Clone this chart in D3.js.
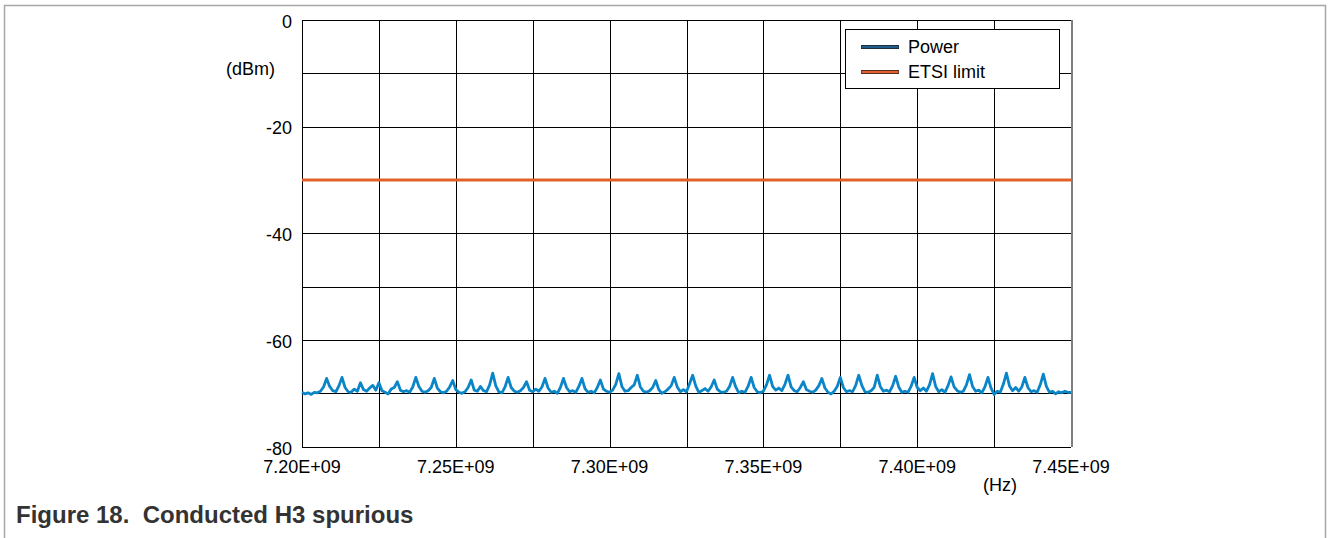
<!DOCTYPE html>
<html>
<head>
<meta charset="utf-8">
<script src="https://cdn.jsdelivr.net/npm/d3@7"></script>
<style>
  html, body { margin: 0; padding: 0; background: #fff; }
  svg { display: block; font-family: "Liberation Sans", Arial, sans-serif; }
</style>
</head>
<body>
<div id="chart"></div>
<script>
// spectrum sweep: 7.20 GHz start, one reading per MHz
const startHz = 7.2e9;
const stepHz = 1e6;
const powerDbm = [
  -69.8, -70.1, -69.9, -70.2, -69.8, -69.9, -69.6, -68.8, -67.2, -68.7,
  -69.5, -69.7, -68.6, -67.0, -68.9, -69.7, -69.8, -69.2, -69.6, -68.0,
  -69.3, -69.6, -69.0, -68.5, -69.4, -68.0, -69.5, -69.8, -70.1, -69.2,
  -68.9, -67.8, -69.4, -69.7, -69.5, -69.8, -68.8, -67.0, -68.7, -69.6,
  -69.8, -69.5, -68.9, -67.2, -69.0, -69.7, -69.9, -69.6, -68.8, -67.6,
  -69.3, -69.8, -70.0, -69.7, -68.9, -67.5, -69.4, -69.6, -68.7, -69.5,
  -69.7, -68.4, -66.2, -68.6, -69.7, -69.9, -68.8, -67.0, -68.9, -69.6,
  -69.8, -69.5, -68.9, -67.8, -69.4, -69.7, -69.2, -69.6, -68.8, -67.2,
  -69.0, -69.8, -69.6, -70.0, -68.9, -67.2, -68.9, -69.7, -69.5, -69.8,
  -68.7, -67.2, -69.1, -69.8, -69.6, -69.9, -68.9, -67.5, -69.2, -69.6,
  -69.8, -69.4, -68.3, -66.3, -68.7, -69.6, -69.5, -68.9, -68.4, -66.6,
  -68.8, -69.6, -69.8, -69.5, -68.9, -67.6, -69.3, -70.0, -69.7, -69.2,
  -68.6, -67.0, -68.8, -69.7, -69.3, -69.7, -68.2, -66.6, -68.6, -69.8,
  -69.5, -69.1, -69.6, -68.8, -67.5, -69.2, -69.7, -69.8, -69.6, -68.7,
  -67.0, -68.8, -69.9, -69.6, -69.8, -68.7, -67.0, -68.9, -69.7, -69.9,
  -69.6, -68.4, -66.6, -68.7, -69.4, -69.0, -69.5, -68.3, -66.6, -68.8,
  -69.5, -69.7, -68.9, -67.8, -69.3, -69.6, -69.8, -69.4, -68.6, -67.2,
  -69.0, -69.8, -70.1, -69.6, -68.7, -67.0, -68.9, -69.7, -69.5, -69.7,
  -68.5, -66.6, -68.5, -69.7, -69.8, -69.5, -68.9, -66.6, -68.7, -69.6,
  -69.4, -69.7, -68.6, -66.8, -68.8, -69.8, -69.6, -69.8, -68.7, -67.0,
  -68.9, -69.5, -69.0, -69.6, -68.4, -66.3, -68.7, -69.7, -69.3, -69.8,
  -68.6, -66.9, -68.8, -69.5, -69.8, -69.6, -68.4, -66.5, -68.7, -69.6,
  -69.4, -69.9, -68.8, -67.0, -69.0, -70.2, -69.6, -69.8, -68.3, -66.2,
  -68.6, -69.5, -68.9, -69.6, -68.8, -67.0, -68.9, -69.7, -69.5, -69.8,
  -68.4, -66.4, -68.7, -69.8, -69.6, -70.1, -69.7, -69.9, -69.6, -69.8,
  -69.8
];
const etsiLimit = -30;

const xTickValues = [7.20e9, 7.25e9, 7.30e9, 7.35e9, 7.40e9, 7.45e9];
const xGridValues = [7.20e9, 7.225e9, 7.25e9, 7.275e9, 7.30e9, 7.325e9, 7.35e9, 7.375e9, 7.40e9, 7.425e9, 7.45e9];
const yTickValues = [0, -20, -40, -60, -80];
const yGridValues = [0, -10, -20, -30, -40, -50, -60, -70, -80];
const seriesNames = ['Power', 'ETSI limit'];
const seriesColors = ['#1f5e8c', '#e4602a'];

const width = 1328;
const height = 538;
const plot = { left: 302, right: 1071, top: 20, bottom: 446.7 };

const svg = d3.select('#chart')
  .append('svg')
  .attr('width', width)
  .attr('height', height);

// outer figure frame (open at the bottom)
svg.append('path')
  .attr('d', `M4.5,${height} V5.5 H1325.5 V${height}`)
  .attr('fill', 'none')
  .attr('stroke', '#a6a6a6')
  .attr('stroke-width', 1.5);

const x = d3.scaleLinear().domain([7.2e9, 7.45e9]).range([plot.left, plot.right]);
const y = d3.scaleLinear().domain([-80, 0]).range([plot.bottom, plot.top]);

const fmtHz = (v) => (v / 1e9).toFixed(2) + 'E+09';

// grid
const grid = svg.append('g').attr('shape-rendering', 'crispEdges');
grid.selectAll('line.v')
  .data(xGridValues)
  .join('line')
  .attr('class', 'v')
  .attr('x1', (d) => Math.round(x(d)) + 0.5)
  .attr('x2', (d) => Math.round(x(d)) + 0.5)
  .attr('y1', plot.top)
  .attr('y2', plot.bottom)
  .attr('stroke', (d, i) => (i === xGridValues.length - 1 ? '#7f7f7f' : '#000'))
  .attr('stroke-width', (d, i) => (i === xGridValues.length - 1 ? 2 : 1));
grid.selectAll('line.h')
  .data(yGridValues)
  .join('line')
  .attr('class', 'h')
  .attr('x1', plot.left)
  .attr('x2', plot.right)
  .attr('y1', (d) => Math.round(y(d)) + 0.5)
  .attr('y2', (d) => Math.round(y(d)) + 0.5)
  .attr('stroke', '#000')
  .attr('stroke-width', 1);

// axis labels
svg.append('g')
  .selectAll('text')
  .data(yTickValues)
  .join('text')
  .attr('x', 292)
  .attr('y', (d) => y(d) + 1.5)
  .attr('dy', '0.35em')
  .attr('text-anchor', 'end')
  .attr('font-size', 18)
  .attr('fill', '#000')
  .text((d) => d);

svg.append('g')
  .selectAll('text')
  .data(xTickValues)
  .join('text')
  .attr('x', (d) => x(d))
  .attr('y', 466.5)
  .attr('dy', '0.35em')
  .attr('text-anchor', 'middle')
  .attr('font-size', 18)
  .attr('fill', '#000')
  .text(fmtHz);

svg.append('text')
  .attr('x', 275)
  .attr('y', 68.5)
  .attr('dy', '0.35em')
  .attr('text-anchor', 'end')
  .attr('font-size', 18)
  .text('(dBm)');

svg.append('text')
  .attr('x', 1000)
  .attr('y', 484.5)
  .attr('dy', '0.35em')
  .attr('text-anchor', 'middle')
  .attr('font-size', 18)
  .text('(Hz)');

// series
const line = d3.line()
  .x((d, i) => x(startHz + i * stepHz))
  .y((d) => y(d));

svg.append('path')
  .datum(powerDbm)
  .attr('d', line)
  .attr('fill', 'none')
  .attr('stroke', '#0a86c8')
  .attr('stroke-width', 2.8)
  .attr('stroke-linejoin', 'round');

svg.append('line')
  .attr('x1', plot.left)
  .attr('x2', plot.right)
  .attr('y1', y(etsiLimit))
  .attr('y2', y(etsiLimit))
  .attr('stroke', '#e4602a')
  .attr('stroke-width', 3);

// legend
const legend = svg.append('g');
legend.append('rect')
  .attr('x', 845.5)
  .attr('y', 29.5)
  .attr('width', 214)
  .attr('height', 59)
  .attr('fill', '#fff')
  .attr('stroke', '#000')
  .attr('stroke-width', 1);

const items = legend.selectAll('g.item')
  .data(seriesNames)
  .join('g')
  .attr('class', 'item')
  .attr('transform', (d, i) => `translate(0,${47 + i * 25})`);
items.append('line')
  .attr('x1', 861)
  .attr('x2', 899)
  .attr('stroke', '#222')
  .attr('stroke-width', 4);
items.append('line')
  .attr('x1', 861.5)
  .attr('x2', 898.5)
  .attr('stroke', (d, i) => seriesColors[i])
  .attr('stroke-width', 2.4);
items.append('text')
  .attr('x', 908)
  .attr('dy', '0.35em')
  .attr('font-size', 18)
  .text((d) => d);

// caption
svg.append('text')
  .attr('x', 16)
  .attr('y', 515)
  .attr('dy', '0.35em')
  .attr('font-size', 24)
  .attr('font-weight', 'bold')
  .attr('fill', '#333')
  .style('white-space', 'pre')
  .text('Figure 18.  Conducted H3 spurious');
</script>
</body>
</html>
